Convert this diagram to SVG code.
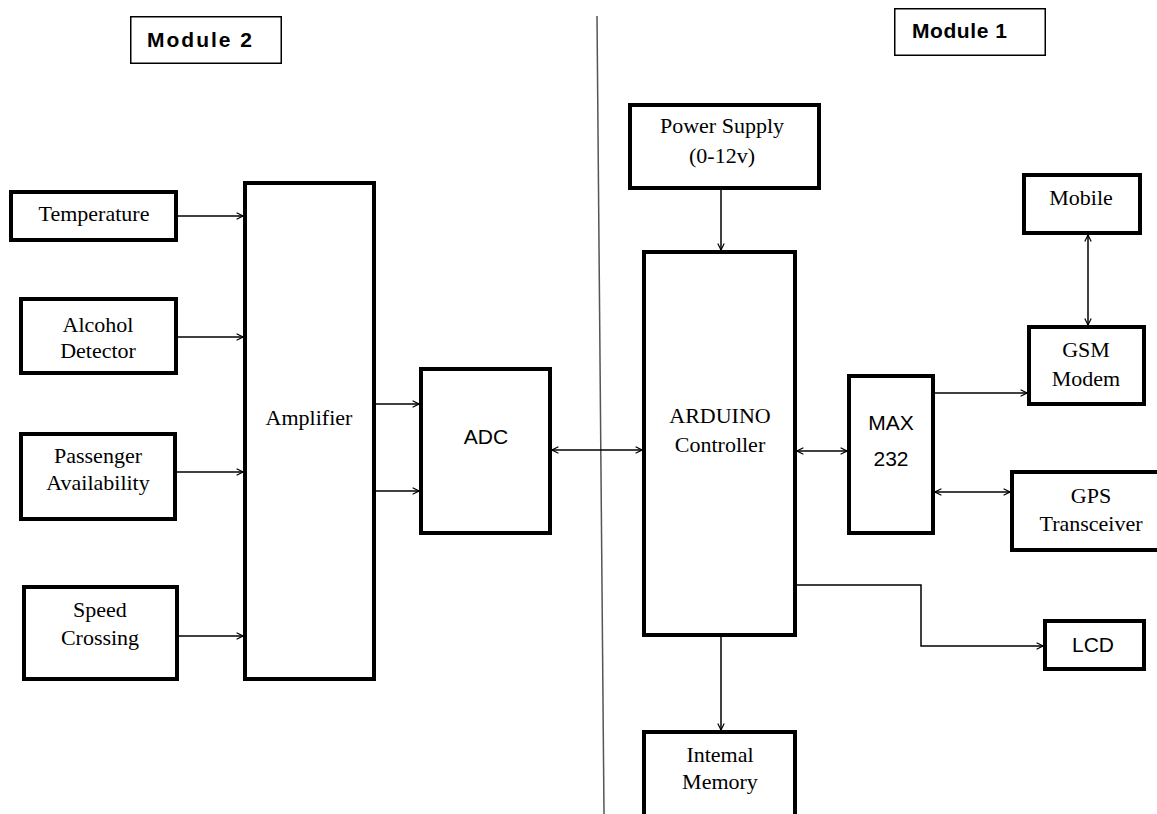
<svg xmlns="http://www.w3.org/2000/svg" width="1157" height="814" viewBox="0 0 1157 814">
<style>
.node{fill:#fff;stroke:#000;stroke-width:4}
.lbl{fill:#fff;stroke:#000;stroke-width:1.5}
.serif{font-family:"Liberation Serif","Times New Roman",serif;font-size:22px;fill:#000;text-anchor:middle}
.sans{font-family:"Liberation Sans",Arial,sans-serif;font-size:21px;fill:#000;text-anchor:middle}
.bold{font-family:"Liberation Sans",Arial,sans-serif;font-size:21px;font-weight:bold;fill:#000}
.conn{fill:none;stroke:#000;stroke-width:1.5}
</style>
<defs>
<marker id="ah" viewBox="0 0 10 10" refX="9" refY="5" markerWidth="8" markerHeight="8" markerUnits="userSpaceOnUse" orient="auto-start-reverse">
<path d="M1,1 L9,5 L1,9" fill="none" stroke="#000" stroke-width="1.5"/>
</marker>
</defs>
<rect width="1157" height="814" fill="#fff"/>
<line x1="597" y1="16" x2="604" y2="814" stroke="#555" stroke-width="1.5"/>
<g id="module2"><rect class="lbl" x="130.75" y="16.75" width="150.5" height="46.5"/><text class="bold" x="147" y="47" textLength="105">Module  2</text></g>
<g id="module1"><rect class="lbl" x="894.75" y="8.75" width="150.5" height="46.5"/><text class="bold" x="912" y="38" textLength="95">Module 1</text></g>
<g id="temperature"><rect class="node" x="11" y="192" width="165" height="48"/><text class="serif" x="94" y="221">Temperature</text></g>
<g id="alcohol"><rect class="node" x="21" y="299" width="155" height="74"/><text class="serif" x="98" y="332">Alcohol</text><text class="serif" x="98" y="358">Detector</text></g>
<g id="passenger"><rect class="node" x="21" y="434" width="154" height="85"/><text class="serif" x="98" y="463">Passenger</text><text class="serif" x="98" y="490">Availability</text></g>
<g id="speed"><rect class="node" x="24" y="587" width="153" height="92"/><text class="serif" x="100" y="617">Speed</text><text class="serif" x="100" y="645">Crossing</text></g>
<g id="amplifier"><rect class="node" x="245" y="183" width="129" height="496"/><text class="serif" x="309" y="425">Amplifier</text></g>
<g id="adc"><rect class="node" x="421" y="369" width="129" height="164"/><text class="sans" x="486" y="444">ADC</text></g>
<g id="power"><rect class="node" x="630" y="105" width="189" height="83"/><text class="serif" x="722" y="133">Power Supply</text><text class="serif" x="722" y="163">(0-12v)</text></g>
<g id="arduino"><rect class="node" x="644" y="252" width="151" height="383"/><text class="serif" x="720" y="423">ARDUINO</text><text class="serif" x="720" y="452">Controller</text></g>
<g id="memory"><rect class="node" x="644" y="732" width="151" height="92"/><text class="serif" x="720" y="762">Intemal</text><text class="serif" x="720" y="789">Memory</text></g>
<g id="max232"><rect class="node" x="849" y="376" width="84" height="157"/><text class="sans" x="891" y="430">MAX</text><text class="sans" x="891" y="466">232</text></g>
<g id="mobile"><rect class="node" x="1024" y="175" width="116" height="58"/><text class="serif" x="1081" y="205">Mobile</text></g>
<g id="gsm"><rect class="node" x="1029" y="327" width="115" height="77"/><text class="serif" x="1086" y="357">GSM</text><text class="serif" x="1086" y="386">Modem</text></g>
<g id="gps"><rect class="node" x="1012" y="472" width="150" height="78"/><text class="serif" x="1091" y="503">GPS</text><text class="serif" x="1091" y="531">Transceiver</text></g>
<g id="lcd"><rect class="node" x="1045" y="621" width="99" height="48"/><text class="sans" x="1093" y="652">LCD</text></g>
<g id="connectors">
<line class="conn" x1="178" y1="216" x2="243" y2="216" marker-end="url(#ah)"/>
<line class="conn" x1="178" y1="337" x2="243" y2="337" marker-end="url(#ah)"/>
<line class="conn" x1="177" y1="472" x2="243" y2="472" marker-end="url(#ah)"/>
<line class="conn" x1="179" y1="636" x2="243" y2="636" marker-end="url(#ah)"/>
<line class="conn" x1="376" y1="404" x2="419" y2="404" marker-end="url(#ah)"/>
<line class="conn" x1="376" y1="491" x2="419" y2="491" marker-end="url(#ah)"/>
<line class="conn" x1="552" y1="450" x2="642" y2="450" marker-start="url(#ah)" marker-end="url(#ah)"/>
<line class="conn" x1="721" y1="190" x2="721" y2="250" marker-end="url(#ah)"/>
<line class="conn" x1="797" y1="451" x2="847" y2="451" marker-start="url(#ah)" marker-end="url(#ah)"/>
<line class="conn" x1="935" y1="393" x2="1027" y2="393" marker-end="url(#ah)"/>
<line class="conn" x1="935" y1="492" x2="1010" y2="492" marker-start="url(#ah)" marker-end="url(#ah)"/>
<line class="conn" x1="1088" y1="235" x2="1088" y2="325" marker-start="url(#ah)" marker-end="url(#ah)"/>
<polyline class="conn" points="797,585 921,585 921,646 1043,646" marker-end="url(#ah)"/>
<line class="conn" x1="721" y1="637" x2="721" y2="730" marker-end="url(#ah)"/>
</g>
</svg>
